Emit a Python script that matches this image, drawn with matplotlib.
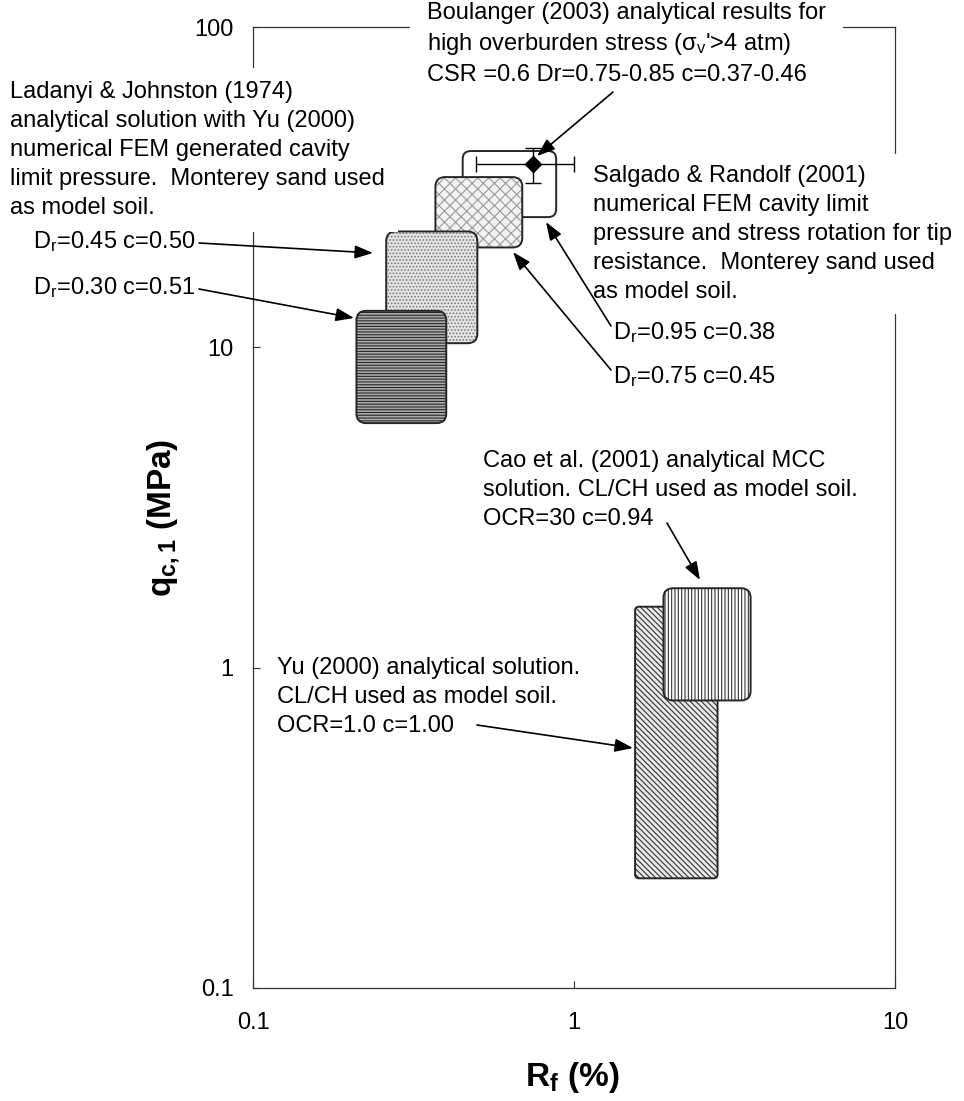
"""q_c1 vs R_f: analytical / numerical cavity-expansion solutions (log-log)."""
import matplotlib.pyplot as plt
import numpy as np
from matplotlib.patches import FancyBboxPatch
from matplotlib.ticker import NullLocator
from matplotlib.transforms import Affine2D

plt.rcParams['font.family'] = ['Liberation Sans', 'DejaVu Sans']
plt.rcParams['mathtext.fontset'] = 'custom'
plt.rcParams['mathtext.rm'] = 'Liberation Sans'
plt.rcParams['mathtext.bf'] = 'Liberation Sans:bold'
plt.rcParams['mathtext.it'] = 'Liberation Sans:italic'
plt.rcParams['hatch.linewidth'] = 0.8

# ---- data -----------------------------------------------------------------
box_names = ['Dr=0.95 c=0.38', 'Dr=0.75 c=0.45', 'Dr=0.45 c=0.50', 'Dr=0.30 c=0.51',
             'Yu OCR=1.0 c=1.00', 'Cao OCR=30 c=0.94']
rf_lo = [0.45, 0.37, 0.26, 0.21, 1.55, 1.90]
rf_hi = [0.88, 0.69, 0.50, 0.40, 2.80, 3.55]
qc_lo = [25.5, 20.5, 10.3, 5.8, 0.22, 0.79]
qc_hi = [41.0, 34.0, 23.0, 13.0, 1.55, 1.77]

# Boulanger (2003) point with ranges
boul_rf = [0.745]
boul_rf_lo = [0.495]
boul_rf_hi = [1.0]
boul_qc = [37.3]
boul_qc_lo = [32.6]
boul_qc_hi = [41.9]

x_ticks = [0.1, 1, 10]
x_ticklabels = ['0.1', '1', '10']
y_ticks = [0.1, 1, 10, 100]
y_ticklabels = ['0.1', '1', '10', '100']

# look of each box: (facecolor, hatch, hatch colour, corner radius in decades, zorder)
STYLES = [
    ('white', None, '#2b2b2b', 0.025, 2.0),
    ('#f2f2f2', 'xxx', '#9a9a9a', 0.03, 2.3),
    ('#e4e4e4', '.....', '#7a7a7a', 0.03, 2.4),
    ('#ababab', '------', '#2a2a2a', 0.03, 2.5),
    ('#e8e8e8', '\\' * 6, '#333333', 0.012, 2.3),
    ('white', '|' * 5, '#333333', 0.03, 2.4),
]

W, H = 964, 1101
fig = plt.figure(figsize=(W / 100, H / 100), dpi=100)
ax = fig.add_axes([253 / W, 1 - 988 / H, (895 - 253) / W, (988 - 27) / H])
ax.set_xscale('log')
ax.set_yscale('log')


def fp(x, y):
    """pixel position (top-left origin) -> figure fraction"""
    return (x / W, 1 - y / H)


# boxes are drawn in log10 space so the rounded corners stay round
T = Affine2D().translate(1, 1).scale(1 / 2, 1 / 3) + ax.transAxes
for i in range(len(box_names)):
    fc, hatch, hc, rad, z = STYLES[i]
    lx, ly = np.log10(rf_lo[i]), np.log10(qc_lo[i])
    w = np.log10(rf_hi[i]) - lx
    h = np.log10(qc_hi[i]) - ly
    style = f'round,pad=0,rounding_size={rad}'
    ax.add_patch(FancyBboxPatch((lx, ly), w, h, boxstyle=style, transform=T,
                                facecolor=fc, edgecolor=hc, hatch=hatch, lw=0, zorder=z))
    ax.add_patch(FancyBboxPatch((lx, ly), w, h, boxstyle=style, transform=T,
                                facecolor='none', edgecolor='#262626', lw=1.4, zorder=z + 0.01))

xerr = [np.subtract(boul_rf, boul_rf_lo), np.subtract(boul_rf_hi, boul_rf)]
yerr = [np.subtract(boul_qc, boul_qc_lo), np.subtract(boul_qc_hi, boul_qc)]
ax.errorbar(boul_rf, boul_qc, xerr=xerr, yerr=yerr, fmt='D', color='black', ms=8,
            capsize=6, elinewidth=1.0, capthick=1.0, zorder=2.2)

ax.set_xlim(0.1, 10)
ax.set_ylim(0.1, 100)
ax.set_xticks(x_ticks, x_ticklabels)
ax.set_yticks(y_ticks, y_ticklabels)
ax.xaxis.set_minor_locator(NullLocator())
ax.yaxis.set_minor_locator(NullLocator())
ax.tick_params(direction='in', length=5, width=0.8, labelsize=17, color='#333333')
ax.tick_params(axis='x', pad=17)
ax.tick_params(axis='y', pad=14)
for sp in ax.spines.values():
    sp.set_color('#333333')
    sp.set_linewidth(0.9)

ax.set_xlabel(r'$\mathbf{R_f}$ (%)', fontsize=24, fontweight='bold')
ax.set_ylabel(r'$\mathbf{q_{c,1}}$ (MPa)', fontsize=24, fontweight='bold')
ax.xaxis.label.set_va('center')
ax.yaxis.label.set(va='center', ha='center')
ax.xaxis.set_label_coords(0.498, -0.093)
ax.yaxis.set_label_coords(-0.140, 0.489)


def note(x, y, s, pad=None):
    kw = {}
    if pad is not None:
        kw['bbox'] = dict(boxstyle=f'square,pad={pad}', fc='white', ec='none')
    ax.text(*fp(x, y), s, transform=fig.transFigure, fontsize=17, linespacing=1.4,
            ha='left', va='center', zorder=3, **kw)


note(427, 44, "Boulanger (2003) analytical results for\n"
              "high overburden stress (σ$_\\mathregular{v}$'>4 atm)\n"
              "CSR =0.6 Dr=0.75-0.85 c=0.37-0.46", pad=0.7)
note(10, 150, "Ladanyi & Johnston (1974)\n"
              "analytical solution with Yu (2000)\n"
              "numerical FEM generated cavity\n"
              "limit pressure.  Monterey sand used\n"
              "as model soil.", pad=0.55)
note(33, 242, r"D$_\mathregular{r}$=0.45 c=0.50")
note(33, 288, r"D$_\mathregular{r}$=0.30 c=0.51")
note(593, 234, "Salgado & Randolf (2001)\n"
               "numerical FEM cavity limit\n"
               "pressure and stress rotation for tip\n"
               "resistance.  Monterey sand used\n"
               "as model soil.", pad=0.5)
note(613, 333, r"D$_\mathregular{r}$=0.95 c=0.38")
note(613, 377, r"D$_\mathregular{r}$=0.75 c=0.45")
note(483, 490, "Cao et al. (2001) analytical MCC\n"
               "solution. CL/CH used as model soil.\n"
               "OCR=30 c=0.94")
note(277, 697, "Yu (2000) analytical solution.\n"
               "CL/CH used as model soil.\n"
               "OCR=1.0 c=1.00")

# arrows: (tail, tip) in pixels
arrows = [((199, 243), (373, 253)),
          ((199, 289), (354, 318)),
          ((611, 326), (546, 222)),
          ((611, 370), (513, 252)),
          ((613, 92), (537, 156)),
          ((667, 523), (700, 580)),
          ((477, 725), (633, 748))]
for tail, tip in arrows:
    ax.annotate('', xy=fp(*tip), xycoords='figure fraction',
                xytext=fp(*tail), textcoords='figure fraction',
                arrowprops=dict(arrowstyle='-|>,head_length=0.55,head_width=0.2',
                                color='black', lw=1.2, shrinkA=0, shrinkB=0,
                                mutation_scale=20),
                annotation_clip=False, zorder=4)

fig.savefig('out.png', dpi=100)
